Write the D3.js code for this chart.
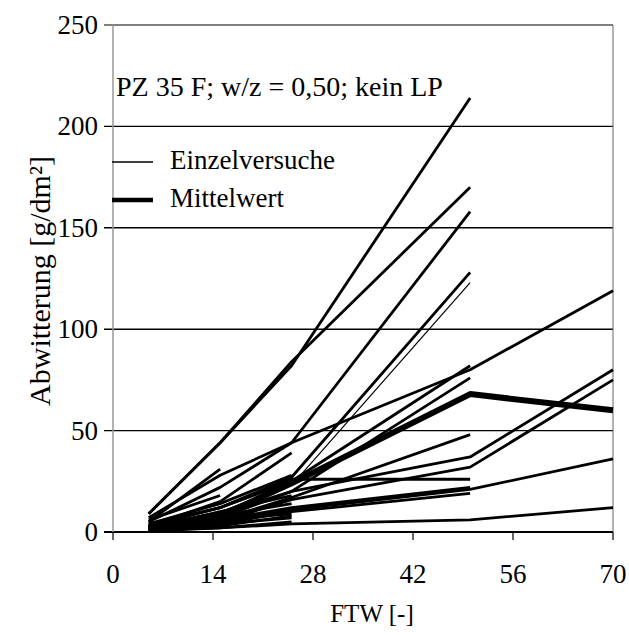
<!DOCTYPE html>
<html><head><meta charset="utf-8">
<script src="https://cdn.jsdelivr.net/npm/d3@7"></script>
<style>
  body { margin: 0; background: #fff; }
  text { font-family: "Liberation Serif", "Times New Roman", serif; fill: #000; }
</style>
</head><body>
<svg id="chart" width="629" height="635"></svg>
<script>
// Freeze-thaw cycles at which scaling was weighed
const ftw = [5, 15, 25, 50, 70];
const xTicks = [0, 14, 28, 42, 56, 70];
const yTicks = [0, 50, 100, 150, 200, 250];

// Individual specimens: scaling [g/dm²] per cycle in ftw (null = not measured)
const einzelversuche = [
  [9, 44, 82, 214, null],
  [9, 44, 84, 170, null],
  [5, 22, 44, 158, null],
  [4, 12, 27, 128, null],
  [7, 28, 44, 80, 119],
  [3, 12, 25, 82, null],
  [2, 9, 20, 76, null],
  [2, 6, 17, 48, null],
  [2, 7, 20, 37, 80],
  [1, 5, 16, 32, 75],
  [3, 12, 26, 26, null],
  [2, 6, 12, 22, null],
  [1, 4, 10, 19, null],
  [1, 5, 11, 21, 36],
  [0.5, 2, 4, 6, 12],
  [5, 31, null, null, null],
  [3, 15, 39, null, null],
  [4, 14, 28, null, null],
  [2, 10, 18, null, null],
  [1, 3, 8, null, null],
  [6, 18, null, null, null],
  [2, 8, 14, null, null],
  [1, 2, 5, null, null],
  [3, 9, null, null, null],
  [1, 6, 9, null, null],
  [2, 4, 7, null, null]
];
// one specimen drawn with a finer stroke
const einzelDuenn = [3, 10, 23, 123, null];
// mean of all specimens
const mittelwert = [2, 8, 24, 68, 60];

const title = "PZ 35 F; w/z = 0,50; kein LP";
const legendLabels = ["Einzelversuche", "Mittelwert"];

const svg = d3.select("#chart");
const x = d3.scaleLinear().domain([0, 70]).range([113, 613]);
const y = d3.scaleLinear().domain([0, 250]).range([532, 25]);

// horizontal grid + y tick marks
svg.append("g").selectAll("line").data(yTicks).join("line")
  .attr("x1", 104).attr("x2", x(70))
  .attr("y1", d => y(d)).attr("y2", d => y(d))
  .attr("stroke", d => d === 250 ? "#555" : "#000")
  .attr("stroke-width", d => d === 0 ? 2 : 1.4);

// y axis line (light) and right frame
svg.append("line").attr("x1", x(0)).attr("x2", x(0)).attr("y1", y(250)).attr("y2", y(0))
  .attr("stroke", "#999").attr("stroke-width", 1.5);
svg.append("line").attr("x1", x(70)).attr("x2", x(70)).attr("y1", y(250)).attr("y2", y(0))
  .attr("stroke", "#666").attr("stroke-width", 1);

// x tick marks
svg.append("g").selectAll("line").data(xTicks).join("line")
  .attr("x1", d => x(d)).attr("x2", d => x(d))
  .attr("y1", y(0)).attr("y2", y(0) + 8)
  .attr("stroke", "#000").attr("stroke-width", 1.2);

// tick labels
svg.append("g").selectAll("text").data(yTicks).join("text")
  .attr("x", 98).attr("y", d => y(d) + 9)
  .attr("text-anchor", "end").attr("font-size", 27)
  .text(d => d);
svg.append("g").selectAll("text").data(xTicks).join("text")
  .attr("x", d => x(d)).attr("y", 583)
  .attr("text-anchor", "middle").attr("font-size", 27)
  .text(d => d);

// axis titles
svg.append("text").attr("x", 372).attr("y", 622).attr("text-anchor", "middle")
  .attr("font-size", 25).text("FTW [-]");
svg.append("text").attr("transform", "translate(50,281) rotate(-90)")
  .attr("text-anchor", "middle").attr("font-size", 30).text("Abwitterung [g/dm²]");

// series lines
const line = d3.line()
  .defined(d => d[1] != null)
  .x(d => x(d[0])).y(d => y(d[1]));
const pts = vals => vals.map((v, i) => [ftw[i], v]);

const g = svg.append("g").attr("fill", "none").attr("stroke", "#000")
  .attr("stroke-linejoin", "round").attr("stroke-linecap", "butt");
g.selectAll("path.einzel").data(einzelversuche).join("path")
  .attr("class", "einzel").attr("d", d => line(pts(d))).attr("stroke-width", 2.8);
g.append("path").attr("d", line(pts(einzelDuenn))).attr("stroke-width", 1.2);
g.append("path").attr("d", line(pts(mittelwert))).attr("stroke-width", 6);

// annotation + legend
svg.append("text").attr("x", 116).attr("y", 96).attr("font-size", 28).text(title);
svg.append("line").attr("x1", 112).attr("x2", 153).attr("y1", 162).attr("y2", 162)
  .attr("stroke", "#000").attr("stroke-width", 1.5);
svg.append("line").attr("x1", 112).attr("x2", 153).attr("y1", 200).attr("y2", 200)
  .attr("stroke", "#000").attr("stroke-width", 4.5);
svg.append("text").attr("x", 170).attr("y", 169).attr("font-size", 27).text(legendLabels[0]);
svg.append("text").attr("x", 170).attr("y", 207).attr("font-size", 27).text(legendLabels[1]);
</script>
</body></html>
